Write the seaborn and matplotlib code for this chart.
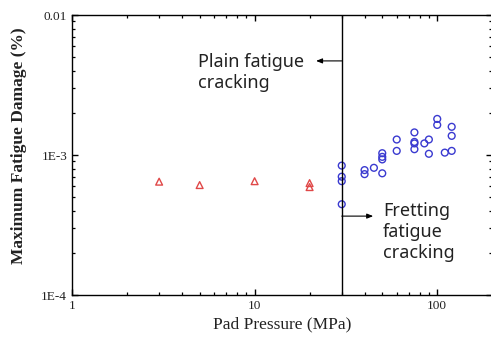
import matplotlib
matplotlib.use("Agg")
import matplotlib.pyplot as plt
from matplotlib.ticker import NullFormatter, FixedLocator
import seaborn as sns
import pandas as pd

# Plain fatigue (triangles)
plain_x = [3, 5, 10, 20, 20]
plain_y = [6.45e-4, 6.1e-4, 6.5e-4, 6.3e-4, 5.9e-4]

# Fretting fatigue (circles)
fret_x = [30, 30, 30, 30, 40, 40, 45, 50, 50, 50, 50, 60, 60, 75, 75, 75, 75,
          85, 90, 90, 100, 100, 110, 120, 120, 120]
fret_y = [8.4e-4, 7.0e-4, 6.5e-4, 4.45e-4, 7.8e-4, 7.3e-4, 8.1e-4, 7.4e-4,
          1.03e-3, 9.7e-4, 9.3e-4, 1.29e-3, 1.07e-3, 1.45e-3, 1.24e-3, 1.21e-3,
          1.10e-3, 1.21e-3, 1.29e-3, 1.02e-3, 1.81e-3, 1.64e-3, 1.04e-3,
          1.59e-3, 1.37e-3, 1.07e-3]

x_ticks = [1, 10, 100]
x_tick_labels = ["1", "10", "100"]
y_ticks = [1e-4, 1e-3, 1e-2]
y_tick_labels = ["1E-4", "1E-3", "0.01"]

boundary = 30

sns.set_theme(style="ticks")
plt.rcParams["font.family"] = ["Liberation Serif", "DejaVu Serif"]

fig = plt.figure(figsize=(4.91, 3.40), dpi=100)
ax = fig.add_axes([72 / 491, 45 / 340, 420.2 / 491, 280 / 340])

df_p = pd.DataFrame({"x": plain_x, "y": plain_y})
df_f = pd.DataFrame({"x": fret_x, "y": fret_y})
sns.scatterplot(data=df_p, x="x", y="y", ax=ax, marker="^", s=24,
                facecolor="none", edgecolor="#e04848", linewidth=1.0)
sns.scatterplot(data=df_f, x="x", y="y", ax=ax, marker="o", s=24,
                facecolor="none", edgecolor="#3a3ad0", linewidth=1.0)

ax.set_xscale("log")
ax.set_yscale("log")
ax.set_xlim(1, 200)
ax.set_ylim(1e-4, 1e-2)
ax.set_xticks(x_ticks)
ax.set_xticklabels(x_tick_labels)
ax.set_yticks(y_ticks)
ax.set_yticklabels(y_tick_labels)
x_minor = [m * d for d in (1, 10, 100) for m in range(2, 10) if m * d < 200]
y_minor = [m * d for d in (1e-4, 1e-3) for m in range(2, 10)]
ax.xaxis.set_minor_locator(FixedLocator(x_minor))
ax.yaxis.set_minor_locator(FixedLocator(y_minor))
ax.xaxis.set_minor_formatter(NullFormatter())
ax.yaxis.set_minor_formatter(NullFormatter())

ax.tick_params(which="both", direction="in", top=True, right=True,
               bottom=True, left=True, labelcolor="#222222", labelsize=9.5,
               color="black")
ax.tick_params(which="major", length=4, width=1.0)
ax.tick_params(which="minor", length=2.4, width=0.9)
for sp in ax.spines.values():
    sp.set_color("black")
    sp.set_linewidth(1.0)

ax.set_xlabel("Pad Pressure (MPa)", fontsize=12.5, color="#222222", labelpad=3.5)
ax.set_ylabel("Maximum Fatigue Damage (%)", fontsize=12.5, fontweight="bold",
              color="#222222")
ax.yaxis.set_label_coords(-0.1072, 0.534)

ax.axvline(boundary, color="black", linewidth=1.0)

sans = ["Noto Sans", "DejaVu Sans"]
ax.text(4.9, 5.33e-3, "Plain fatigue\ncracking", fontsize=13, family=sans,
        ha="left", va="top", linespacing=1.2, color="#222222")
ax.annotate("", xy=(21.7, 4.7e-3), xytext=(boundary, 4.7e-3),
            arrowprops=dict(arrowstyle="-|>,head_length=0.3,head_width=0.12",
                            color="black", lw=0.8, shrinkA=0, shrinkB=0))
ax.text(50.6, 4.6e-4, "Fretting\nfatigue\ncracking", fontsize=13, family=sans,
        ha="left", va="top", linespacing=1.2, color="#222222")
ax.annotate("", xy=(44.6, 3.66e-4), xytext=(boundary, 3.66e-4),
            arrowprops=dict(arrowstyle="-|>,head_length=0.3,head_width=0.12",
                            color="black", lw=0.8, shrinkA=0, shrinkB=0))

fig.savefig("out.png", dpi=100)
